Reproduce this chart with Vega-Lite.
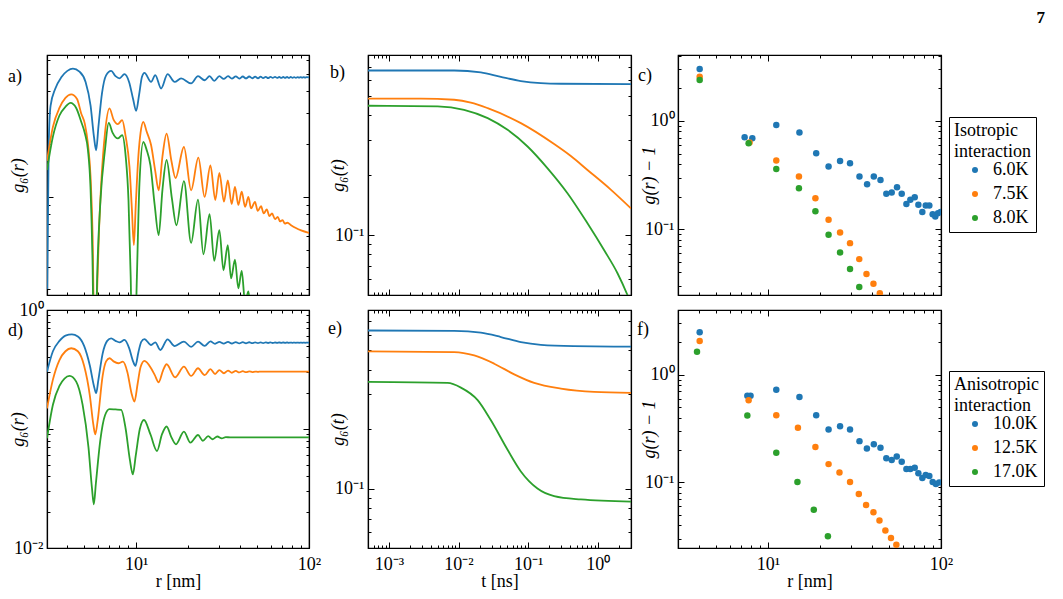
{
"$schema": "https://vega.github.io/schema/vega-lite/v6.json",
"background": "white",
"padding": {"left": 7, "top": 9, "right": 5, "bottom": 5},
"title": {"text": "7", "anchor": "end", "fontSize": 17, "font": "Liberation Serif", "fontWeight": "bold", "offset": 18, "color": "black"},
"config": {
  "font": "Liberation Serif",
  "view": {"stroke": "black", "strokeWidth": 1.2},
  "axis": {"domainColor": "black", "domainWidth": 1.2, "tickColor": "black", "tickWidth": 1, "labelColor": "black", "titleColor": "black", "grid": false, "labelFontSize": 18, "titleFontSize": 18, "labelFont": "Liberation Serif", "titleFont": "Liberation Serif", "titleFontWeight": "normal", "labelFlush": false, "labelOverlap": false},
  "axisTop": {"minExtent": 0, "maxExtent": 0},
  "axisRight": {"minExtent": 0, "maxExtent": 0},
  "legend": {"labelFont": "Liberation Serif", "titleFont": "Liberation Serif", "labelFontSize": 18, "titleFontSize": 18, "titleFontWeight": "normal", "labelColor": "black", "titleColor": "black"}
},
"datasets": {
"pa": [
{"r":3.06,"g":0.03,"T":"6.0K"},{"r":3.12,"g":0.2,"T":"6.0K"},{"r":3.2,"g":0.33,"T":"6.0K"},{"r":3.4,"g":0.41,"T":"6.0K"},{"r":3.7,"g":0.48,"T":"6.0K"},{"r":4.0,"g":0.52,"T":"6.0K"},{"r":4.31,"g":0.536,"T":"6.0K"},{"r":4.7,"g":0.515,"T":"6.0K"},{"r":5.1,"g":0.45,"T":"6.0K"},{"r":5.45,"g":0.33,"T":"6.0K"},{"r":5.7,"g":0.22,"T":"6.0K"},{"r":5.87,"g":0.184,"T":"6.0K"},{"r":6.05,"g":0.25,"T":"6.0K"},{"r":6.35,"g":0.39,"T":"6.0K"},{"r":6.7,"g":0.49,"T":"6.0K"},{"r":7.17,"g":0.52,"T":"6.0K"},{"r":7.6,"g":0.485,"T":"6.0K"},{"r":8.01,"g":0.471,"T":"6.0K"},{"r":8.56,"g":0.498,"T":"6.0K"},{"r":9.1,"g":0.45,"T":"6.0K"},{"r":9.6,"g":0.36,"T":"6.0K"},{"r":10.0,"g":0.308,"T":"6.0K"},{"r":10.4,"g":0.38,"T":"6.0K"},{"r":10.8,"g":0.48,"T":"6.0K"},{"r":11.17,"g":0.507,"T":"6.0K"},{"r":12.2,"g":0.45,"T":"6.0K"},{"r":12.9,"g":0.492,"T":"6.0K"},{"r":13.95,"g":0.413,"T":"6.0K"},{"r":15.2,"g":0.498,"T":"6.0K"},{"r":16.7,"g":0.45,"T":"6.0K"},{"r":18.2,"g":0.471,"T":"6.0K"},{"r":20.8,"g":0.441,"T":"6.0K"},{"r":22.8,"g":0.485,"T":"6.0K"},{"r":24.9,"g":0.46,"T":"6.0K"},{"r":26.6,"g":0.485,"T":"6.0K"},{"r":28.3,"g":0.456,"T":"6.0K"},{"r":30.3,"g":0.485,"T":"6.0K"},{"r":32.1,"g":0.468,"T":"6.0K"},{"r":34,"g":0.485,"T":"6.0K"},{"r":35.8,"g":0.47,"T":"6.0K"},{"r":37.7,"g":0.484,"T":"6.0K"},{"r":39.5,"g":0.47,"T":"6.0K"},{"r":41.4,"g":0.483,"T":"6.0K"},{"r":43.2,"g":0.471,"T":"6.0K"},{"r":45.1,"g":0.483,"T":"6.0K"},{"r":47,"g":0.472,"T":"6.0K"},{"r":48.8,"g":0.482,"T":"6.0K"},{"r":50.7,"g":0.472,"T":"6.0K"},{"r":52.5,"g":0.482,"T":"6.0K"},{"r":54.3,"g":0.473,"T":"6.0K"},{"r":56.2,"g":0.481,"T":"6.0K"},{"r":58,"g":0.473,"T":"6.0K"},{"r":59.9,"g":0.481,"T":"6.0K"},{"r":61.7,"g":0.474,"T":"6.0K"},{"r":63.6,"g":0.481,"T":"6.0K"},{"r":65.4,"g":0.474,"T":"6.0K"},{"r":67.3,"g":0.48,"T":"6.0K"},{"r":69.1,"g":0.474,"T":"6.0K"},{"r":71,"g":0.48,"T":"6.0K"},{"r":72.8,"g":0.475,"T":"6.0K"},{"r":74.7,"g":0.48,"T":"6.0K"},{"r":76.5,"g":0.475,"T":"6.0K"},{"r":78.4,"g":0.48,"T":"6.0K"},{"r":80.2,"g":0.475,"T":"6.0K"},{"r":82.1,"g":0.479,"T":"6.0K"},{"r":84,"g":0.475,"T":"6.0K"},{"r":85.8,"g":0.479,"T":"6.0K"},{"r":87.7,"g":0.476,"T":"6.0K"},{"r":89.5,"g":0.479,"T":"6.0K"},{"r":91.4,"g":0.476,"T":"6.0K"},{"r":93.2,"g":0.479,"T":"6.0K"},{"r":95,"g":0.476,"T":"6.0K"},{"r":96.9,"g":0.479,"T":"6.0K"},{"r":100,"g":0.477,"T":"6.0K"},
{"r":3.05,"g":0.16,"T":"7.5K"},{"r":3.3,"g":0.25,"T":"7.5K"},{"r":3.6,"g":0.32,"T":"7.5K"},{"r":3.9,"g":0.365,"T":"7.5K"},{"r":4.21,"g":0.382,"T":"7.5K"},{"r":4.55,"g":0.36,"T":"7.5K"},{"r":4.81,"g":0.298,"T":"7.5K"},{"r":5.05,"g":0.26,"T":"7.5K"},{"r":5.26,"g":0.2,"T":"7.5K"},{"r":5.45,"g":0.13,"T":"7.5K"},{"r":5.6,"g":0.06,"T":"7.5K"},{"r":5.78,"g":0.008,"T":"7.5K"},{"r":5.95,"g":0.03,"T":"7.5K"},{"r":6.1,"g":0.065,"T":"7.5K"},{"r":6.28,"g":0.119,"T":"7.5K"},{"r":6.6,"g":0.229,"T":"7.5K"},{"r":7.01,"g":0.318,"T":"7.5K"},{"r":7.4,"g":0.275,"T":"7.5K"},{"r":7.83,"g":0.259,"T":"7.5K"},{"r":8.3,"g":0.273,"T":"7.5K"},{"r":8.7,"g":0.22,"T":"7.5K"},{"r":9.15,"g":0.148,"T":"7.5K"},{"r":9.45,"g":0.085,"T":"7.5K"},{"r":9.7,"g":0.0532,"T":"7.5K"},{"r":9.95,"g":0.09,"T":"7.5K"},{"r":10.3,"g":0.17,"T":"7.5K"},{"r":10.6,"g":0.23,"T":"7.5K"},{"r":11.0,"g":0.267,"T":"7.5K"},{"r":11.5,"g":0.235,"T":"7.5K"},{"r":12.2,"g":0.197,"T":"7.5K"},{"r":12.9,"g":0.14,"T":"7.5K"},{"r":13.5,"g":0.109,"T":"7.5K"},{"r":14.2,"g":0.17,"T":"7.5K"},{"r":15.0,"g":0.229,"T":"7.5K"},{"r":16.0,"g":0.16,"T":"7.5K"},{"r":16.9,"g":0.128,"T":"7.5K"},{"r":18.9,"g":0.192,"T":"7.5K"},{"r":20.8,"g":0.109,"T":"7.5K"},{"r":22.9,"g":0.167,"T":"7.5K"},{"r":24.9,"g":0.1,"T":"7.5K"},{"r":26.9,"g":0.151,"T":"7.5K"},{"r":28.7,"g":0.096,"T":"7.5K"},{"r":30.3,"g":0.137,"T":"7.5K"},{"r":32.2,"g":0.094,"T":"7.5K"},{"r":33.9,"g":0.124,"T":"7.5K"},{"r":35.7,"g":0.091,"T":"7.5K"},{"r":37.3,"g":0.114,"T":"7.5K"},{"r":39,"g":0.09,"T":"7.5K"},{"r":40.8,"g":0.107,"T":"7.5K"},{"r":42.7,"g":0.0877,"T":"7.5K"},{"r":44.6,"g":0.1,"T":"7.5K"},{"r":46.2,"g":0.086,"T":"7.5K"},{"r":48.7,"g":0.0937,"T":"7.5K"},{"r":50.5,"g":0.0833,"T":"7.5K"},{"r":52.8,"g":0.0885,"T":"7.5K"},{"r":54.7,"g":0.0805,"T":"7.5K"},{"r":57,"g":0.0848,"T":"7.5K"},{"r":59,"g":0.0777,"T":"7.5K"},{"r":61.1,"g":0.0805,"T":"7.5K"},{"r":63.6,"g":0.0747,"T":"7.5K"},{"r":65.9,"g":0.077,"T":"7.5K"},{"r":68,"g":0.0725,"T":"7.5K"},{"r":70.3,"g":0.0738,"T":"7.5K"},{"r":72.5,"g":0.0705,"T":"7.5K"},{"r":75,"g":0.0713,"T":"7.5K"},{"r":78.7,"g":0.069,"T":"7.5K"},{"r":84,"g":0.0665,"T":"7.5K"},{"r":90,"g":0.0645,"T":"7.5K"},{"r":100,"g":0.0624,"T":"7.5K"},
{"r":3.05,"g":0.142,"T":"8.0K"},{"r":3.3,"g":0.22,"T":"8.0K"},{"r":3.6,"g":0.29,"T":"8.0K"},{"r":3.9,"g":0.325,"T":"8.0K"},{"r":4.17,"g":0.342,"T":"8.0K"},{"r":4.5,"g":0.32,"T":"8.0K"},{"r":4.81,"g":0.267,"T":"8.0K"},{"r":5.05,"g":0.23,"T":"8.0K"},{"r":5.26,"g":0.185,"T":"8.0K"},{"r":5.45,"g":0.11,"T":"8.0K"},{"r":5.6,"g":0.04,"T":"8.0K"},{"r":5.75,"g":0.006,"T":"8.0K"},{"r":5.95,"g":0.035,"T":"8.0K"},{"r":6.22,"g":0.096,"T":"8.0K"},{"r":6.6,"g":0.184,"T":"8.0K"},{"r":6.94,"g":0.263,"T":"8.0K"},{"r":7.3,"g":0.232,"T":"8.0K"},{"r":7.83,"g":0.215,"T":"8.0K"},{"r":8.3,"g":0.224,"T":"8.0K"},{"r":8.7,"g":0.17,"T":"8.0K"},{"r":9.03,"g":0.096,"T":"8.0K"},{"r":9.3,"g":0.035,"T":"8.0K"},{"r":9.6,"g":0.006,"T":"8.0K"},{"r":10.1,"g":0.035,"T":"8.0K"},{"r":10.45,"g":0.119,"T":"8.0K"},{"r":11.0,"g":0.205,"T":"8.0K"},{"r":11.5,"g":0.185,"T":"8.0K"},{"r":12.1,"g":0.151,"T":"8.0K"},{"r":12.8,"g":0.09,"T":"8.0K"},{"r":13.5,"g":0.0606,"T":"8.0K"},{"r":14.2,"g":0.11,"T":"8.0K"},{"r":15.0,"g":0.162,"T":"8.0K"},{"r":16.1,"g":0.098,"T":"8.0K"},{"r":17.1,"g":0.069,"T":"8.0K"},{"r":18.9,"g":0.123,"T":"8.0K"},{"r":20.8,"g":0.0548,"T":"8.0K"},{"r":22.8,"g":0.0966,"T":"8.0K"},{"r":24.5,"g":0.0472,"T":"8.0K"},{"r":26.6,"g":0.0797,"T":"8.0K"},{"r":28.3,"g":0.0433,"T":"8.0K"},{"r":30.3,"g":0.0647,"T":"8.0K"},{"r":32,"g":0.0383,"T":"8.0K"},{"r":33.9,"g":0.0532,"T":"8.0K"},{"r":35.4,"g":0.0344,"T":"8.0K"},{"r":37.3,"g":0.044,"T":"8.0K"},{"r":39,"g":0.0302,"T":"8.0K"},{"r":40.8,"g":0.038,"T":"8.0K"},{"r":42.7,"g":0.025,"T":"8.0K"},{"r":44.6,"g":0.029,"T":"8.0K"},{"r":46.5,"g":0.02,"T":"8.0K"},{"r":50,"g":0.014,"T":"8.0K"}
],
"pd": [
{"r":3.05,"g":0.303,"T":"10.0K"},{"r":3.3,"g":0.45,"T":"10.0K"},{"r":3.6,"g":0.55,"T":"10.0K"},{"r":3.9,"g":0.61,"T":"10.0K"},{"r":4.25,"g":0.625,"T":"10.0K"},{"r":4.6,"g":0.6,"T":"10.0K"},{"r":5.0,"g":0.5,"T":"10.0K"},{"r":5.4,"g":0.34,"T":"10.0K"},{"r":5.7,"g":0.23,"T":"10.0K"},{"r":5.87,"g":0.2,"T":"10.0K"},{"r":6.05,"g":0.26,"T":"10.0K"},{"r":6.4,"g":0.43,"T":"10.0K"},{"r":6.8,"g":0.55,"T":"10.0K"},{"r":7.17,"g":0.578,"T":"10.0K"},{"r":7.6,"g":0.55,"T":"10.0K"},{"r":8.01,"g":0.535,"T":"10.0K"},{"r":8.56,"g":0.56,"T":"10.0K"},{"r":9.1,"g":0.48,"T":"10.0K"},{"r":9.6,"g":0.37,"T":"10.0K"},{"r":9.9,"g":0.339,"T":"10.0K"},{"r":10.3,"g":0.44,"T":"10.0K"},{"r":10.7,"g":0.54,"T":"10.0K"},{"r":11.17,"g":0.57,"T":"10.0K"},{"r":12.2,"g":0.508,"T":"10.0K"},{"r":12.9,"g":0.535,"T":"10.0K"},{"r":13.8,"g":0.461,"T":"10.0K"},{"r":15.2,"g":0.567,"T":"10.0K"},{"r":16.7,"g":0.498,"T":"10.0K"},{"r":18.9,"g":0.542,"T":"10.0K"},{"r":20.8,"g":0.49,"T":"10.0K"},{"r":22.8,"g":0.542,"T":"10.0K"},{"r":24.9,"g":0.5,"T":"10.0K"},{"r":26.9,"g":0.545,"T":"10.0K"},{"r":28.6,"g":0.52,"T":"10.0K"},{"r":30.3,"g":0.54,"T":"10.0K"},{"r":32.1,"g":0.522,"T":"10.0K"},{"r":34,"g":0.54,"T":"10.0K"},{"r":35.8,"g":0.523,"T":"10.0K"},{"r":37.7,"g":0.538,"T":"10.0K"},{"r":39.5,"g":0.524,"T":"10.0K"},{"r":41.4,"g":0.537,"T":"10.0K"},{"r":43.2,"g":0.525,"T":"10.0K"},{"r":45.1,"g":0.536,"T":"10.0K"},{"r":47,"g":0.526,"T":"10.0K"},{"r":48.8,"g":0.535,"T":"10.0K"},{"r":50.7,"g":0.527,"T":"10.0K"},{"r":52.5,"g":0.535,"T":"10.0K"},{"r":54.3,"g":0.527,"T":"10.0K"},{"r":56.2,"g":0.534,"T":"10.0K"},{"r":58,"g":0.528,"T":"10.0K"},{"r":59.9,"g":0.534,"T":"10.0K"},{"r":61.7,"g":0.528,"T":"10.0K"},{"r":63.6,"g":0.533,"T":"10.0K"},{"r":65.4,"g":0.529,"T":"10.0K"},{"r":67.3,"g":0.533,"T":"10.0K"},{"r":69.1,"g":0.529,"T":"10.0K"},{"r":71,"g":0.533,"T":"10.0K"},{"r":72.8,"g":0.529,"T":"10.0K"},{"r":74.7,"g":0.533,"T":"10.0K"},{"r":76.5,"g":0.53,"T":"10.0K"},{"r":78.4,"g":0.532,"T":"10.0K"},{"r":80.2,"g":0.53,"T":"10.0K"},{"r":82.1,"g":0.532,"T":"10.0K"},{"r":84,"g":0.53,"T":"10.0K"},{"r":85.8,"g":0.532,"T":"10.0K"},{"r":87.7,"g":0.53,"T":"10.0K"},{"r":89.5,"g":0.532,"T":"10.0K"},{"r":91.4,"g":0.53,"T":"10.0K"},{"r":93.2,"g":0.532,"T":"10.0K"},{"r":95,"g":0.53,"T":"10.0K"},{"r":96.9,"g":0.532,"T":"10.0K"},{"r":100,"g":0.531,"T":"10.0K"},
{"r":3.05,"g":0.149,"T":"12.5K"},{"r":3.3,"g":0.26,"T":"12.5K"},{"r":3.6,"g":0.38,"T":"12.5K"},{"r":3.9,"g":0.45,"T":"12.5K"},{"r":4.21,"g":0.477,"T":"12.5K"},{"r":4.6,"g":0.45,"T":"12.5K"},{"r":5.0,"g":0.34,"T":"12.5K"},{"r":5.4,"g":0.19,"T":"12.5K"},{"r":5.65,"g":0.11,"T":"12.5K"},{"r":5.8,"g":0.09,"T":"12.5K"},{"r":6.0,"g":0.12,"T":"12.5K"},{"r":6.4,"g":0.28,"T":"12.5K"},{"r":6.7,"g":0.37,"T":"12.5K"},{"r":7.01,"g":0.393,"T":"12.5K"},{"r":7.4,"g":0.37,"T":"12.5K"},{"r":7.89,"g":0.357,"T":"12.5K"},{"r":8.38,"g":0.368,"T":"12.5K"},{"r":8.9,"g":0.3,"T":"12.5K"},{"r":9.4,"g":0.2,"T":"12.5K"},{"r":9.78,"g":0.17,"T":"12.5K"},{"r":10.2,"g":0.24,"T":"12.5K"},{"r":10.6,"g":0.33,"T":"12.5K"},{"r":11.17,"g":0.373,"T":"12.5K"},{"r":12.2,"g":0.324,"T":"12.5K"},{"r":12.8,"g":0.285,"T":"12.5K"},{"r":13.5,"g":0.247,"T":"12.5K"},{"r":14.3,"g":0.31,"T":"12.5K"},{"r":15.0,"g":0.35,"T":"12.5K"},{"r":16.8,"g":0.272,"T":"12.5K"},{"r":18.9,"g":0.334,"T":"12.5K"},{"r":20.8,"g":0.279,"T":"12.5K"},{"r":22.8,"g":0.324,"T":"12.5K"},{"r":24.9,"g":0.284,"T":"12.5K"},{"r":26.9,"g":0.318,"T":"12.5K"},{"r":28.6,"g":0.29,"T":"12.5K"},{"r":30.3,"g":0.313,"T":"12.5K"},{"r":32.2,"g":0.294,"T":"12.5K"},{"r":34,"g":0.31,"T":"12.5K"},{"r":35.8,"g":0.297,"T":"12.5K"},{"r":37.7,"g":0.308,"T":"12.5K"},{"r":39.5,"g":0.299,"T":"12.5K"},{"r":41.4,"g":0.306,"T":"12.5K"},{"r":43.2,"g":0.3,"T":"12.5K"},{"r":45.1,"g":0.305,"T":"12.5K"},{"r":47,"g":0.301,"T":"12.5K"},{"r":48.8,"g":0.304,"T":"12.5K"},{"r":50.7,"g":0.302,"T":"12.5K"},{"r":52.5,"g":0.304,"T":"12.5K"},{"r":56,"g":0.303,"T":"12.5K"},{"r":100,"g":0.303,"T":"12.5K"},
{"r":3.05,"g":0.0835,"T":"17.0K"},{"r":3.3,"g":0.16,"T":"17.0K"},{"r":3.6,"g":0.23,"T":"17.0K"},{"r":3.85,"g":0.265,"T":"17.0K"},{"r":4.12,"g":0.279,"T":"17.0K"},{"r":4.5,"g":0.25,"T":"17.0K"},{"r":4.9,"g":0.16,"T":"17.0K"},{"r":5.3,"g":0.07,"T":"17.0K"},{"r":5.55,"g":0.032,"T":"17.0K"},{"r":5.69,"g":0.0233,"T":"17.0K"},{"r":5.85,"g":0.035,"T":"17.0K"},{"r":6.2,"g":0.08,"T":"17.0K"},{"r":6.6,"g":0.13,"T":"17.0K"},{"r":7.01,"g":0.147,"T":"17.0K"},{"r":7.6,"g":0.146,"T":"17.0K"},{"r":8.19,"g":0.145,"T":"17.0K"},{"r":8.7,"g":0.1,"T":"17.0K"},{"r":9.2,"g":0.055,"T":"17.0K"},{"r":9.57,"g":0.0416,"T":"17.0K"},{"r":9.95,"g":0.06,"T":"17.0K"},{"r":10.5,"g":0.1,"T":"17.0K"},{"r":11.1,"g":0.119,"T":"17.0K"},{"r":12.1,"g":0.09,"T":"17.0K"},{"r":13.2,"g":0.0653,"T":"17.0K"},{"r":14.1,"g":0.09,"T":"17.0K"},{"r":15.0,"g":0.105,"T":"17.0K"},{"r":16.0,"g":0.085,"T":"17.0K"},{"r":17.0,"g":0.0744,"T":"17.0K"},{"r":18.9,"g":0.095,"T":"17.0K"},{"r":20.6,"g":0.0767,"T":"17.0K"},{"r":22.8,"g":0.089,"T":"17.0K"},{"r":24.3,"g":0.0797,"T":"17.0K"},{"r":26.1,"g":0.087,"T":"17.0K"},{"r":27.6,"g":0.082,"T":"17.0K"},{"r":29.5,"g":0.0865,"T":"17.0K"},{"r":31.3,"g":0.0835,"T":"17.0K"},{"r":33,"g":0.0855,"T":"17.0K"},{"r":35,"g":0.085,"T":"17.0K"},{"r":100,"g":0.0851,"T":"17.0K"}
],
"pb": [
{"t":0.0005,"g":0.669,"T":"6.0K"},{"t":0.00865,"g":0.669,"T":"6.0K"},{"t":0.0209,"g":0.655,"T":"6.0K"},{"t":0.0405,"g":0.621,"T":"6.0K"},{"t":0.0785,"g":0.592,"T":"6.0K"},{"t":0.152,"g":0.578,"T":"6.0K"},{"t":0.295,"g":0.574,"T":"6.0K"},{"t":3,"g":0.572,"T":"6.0K"},
{"t":0.0005,"g":0.483,"T":"7.5K"},{"t":0.00288,"g":0.483,"T":"7.5K"},{"t":0.00865,"g":0.477,"T":"7.5K"},{"t":0.015,"g":0.462,"T":"7.5K"},{"t":0.0262,"g":0.433,"T":"7.5K"},{"t":0.0785,"g":0.364,"T":"7.5K"},{"t":0.236,"g":0.286,"T":"7.5K"},{"t":0.41,"g":0.249,"T":"7.5K"},{"t":0.711,"g":0.212,"T":"7.5K"},{"t":1.535,"g":0.169,"T":"7.5K"},{"t":3,"g":0.136,"T":"7.5K"},
{"t":0.0005,"g":0.445,"T":"8.0K"},{"t":0.005,"g":0.442,"T":"8.0K"},{"t":0.012,"g":0.425,"T":"8.0K"},{"t":0.0262,"g":0.386,"T":"8.0K"},{"t":0.0506,"g":0.337,"T":"8.0K"},{"t":0.098,"g":0.278,"T":"8.0K"},{"t":0.19,"g":0.216,"T":"8.0K"},{"t":0.367,"g":0.162,"T":"8.0K"},{"t":0.711,"g":0.1145,"T":"8.0K"},{"t":1.23,"g":0.0841,"T":"8.0K"},{"t":1.92,"g":0.0643,"T":"8.0K"},{"t":2.67,"g":0.05,"T":"8.0K"},{"t":3,"g":0.0453,"T":"8.0K"}
],
"pe": [
{"t":0.0005,"g":0.63,"T":"10.0K"},{"t":0.00865,"g":0.627,"T":"10.0K"},{"t":0.0209,"g":0.614,"T":"10.0K"},{"t":0.0405,"g":0.584,"T":"10.0K"},{"t":0.0785,"g":0.55,"T":"10.0K"},{"t":0.152,"g":0.533,"T":"10.0K"},{"t":0.45,"g":0.525,"T":"10.0K"},{"t":3,"g":0.522,"T":"10.0K"},
{"t":0.0005,"g":0.494,"T":"12.5K"},{"t":0.00865,"g":0.49,"T":"12.5K"},{"t":0.0168,"g":0.471,"T":"12.5K"},{"t":0.0325,"g":0.428,"T":"12.5K"},{"t":0.063,"g":0.378,"T":"12.5K"},{"t":0.122,"g":0.342,"T":"12.5K"},{"t":0.295,"g":0.32,"T":"12.5K"},{"t":0.885,"g":0.308,"T":"12.5K"},{"t":3,"g":0.305,"T":"12.5K"},
{"t":0.0005,"g":0.346,"T":"17.0K"},{"t":0.00696,"g":0.342,"T":"17.0K"},{"t":0.0108,"g":0.324,"T":"17.0K"},{"t":0.0188,"g":0.28,"T":"17.0K"},{"t":0.029,"g":0.222,"T":"17.0K"},{"t":0.0506,"g":0.157,"T":"17.0K"},{"t":0.0785,"g":0.122,"T":"17.0K"},{"t":0.136,"g":0.1,"T":"17.0K"},{"t":0.236,"g":0.0915,"T":"17.0K"},{"t":0.57,"g":0.088,"T":"17.0K"},{"t":3,"g":0.0858,"T":"17.0K"}
],
"pc": [
{"r":4.03,"g":3.02,"T":"6.0K"},{"r":7.33,"g":0.707,"T":"6.0K"},{"r":8.12,"g":0.692,"T":"6.0K"},{"r":11.17,"g":0.918,"T":"6.0K"},{"r":15.2,"g":0.78,"T":"6.0K"},{"r":19.0,"g":0.503,"T":"6.0K"},{"r":22.4,"g":0.379,"T":"6.0K"},{"r":26.1,"g":0.427,"T":"6.0K"},{"r":29.8,"g":0.407,"T":"6.0K"},{"r":33.8,"g":0.306,"T":"6.0K"},{"r":37.4,"g":0.26,"T":"6.0K"},{"r":40.9,"g":0.306,"T":"6.0K"},{"r":44.7,"g":0.285,"T":"6.0K"},{"r":48.3,"g":0.212,"T":"6.0K"},{"r":51.9,"g":0.218,"T":"6.0K"},{"r":55.7,"g":0.244,"T":"6.0K"},{"r":59.3,"g":0.212,"T":"6.0K"},{"r":63.1,"g":0.171,"T":"6.0K"},{"r":66.5,"g":0.187,"T":"6.0K"},{"r":70.5,"g":0.197,"T":"6.0K"},{"r":74,"g":0.168,"T":"6.0K"},{"r":78,"g":0.144,"T":"6.0K"},{"r":81.6,"g":0.165,"T":"6.0K"},{"r":85.6,"g":0.165,"T":"6.0K"},{"r":89.5,"g":0.137,"T":"6.0K"},{"r":92.7,"g":0.131,"T":"6.0K"},{"r":96.1,"g":0.14,"T":"6.0K"},{"r":99.6,"g":0.144,"T":"6.0K"},
{"r":4.03,"g":2.56,"T":"7.5K"},{"r":7.83,"g":0.631,"T":"7.5K"},{"r":11.17,"g":0.43,"T":"7.5K"},{"r":15.1,"g":0.306,"T":"7.5K"},{"r":18.8,"g":0.193,"T":"7.5K"},{"r":22.4,"g":0.122,"T":"7.5K"},{"r":26.1,"g":0.093,"T":"7.5K"},{"r":29.8,"g":0.0742,"T":"7.5K"},{"r":33.7,"g":0.0528,"T":"7.5K"},{"r":37.1,"g":0.0384,"T":"7.5K"},{"r":40.7,"g":0.0313,"T":"7.5K"},{"r":44.3,"g":0.0256,"T":"7.5K"},
{"r":4.03,"g":2.39,"T":"8.0K"},{"r":7.73,"g":0.622,"T":"8.0K"},{"r":11.17,"g":0.36,"T":"8.0K"},{"r":15.1,"g":0.239,"T":"8.0K"},{"r":18.8,"g":0.146,"T":"8.0K"},{"r":22.4,"g":0.0886,"T":"8.0K"},{"r":26.1,"g":0.0608,"T":"8.0K"},{"r":29.8,"g":0.0427,"T":"8.0K"},{"r":33.7,"g":0.0291,"T":"8.0K"}
],
"pf": [
{"r":4.03,"g":2.48,"T":"10.0K"},{"r":7.6,"g":0.64,"T":"10.0K"},{"r":7.93,"g":0.64,"T":"10.0K"},{"r":11.17,"g":0.727,"T":"10.0K"},{"r":15.2,"g":0.622,"T":"10.0K"},{"r":19.0,"g":0.421,"T":"10.0K"},{"r":22.4,"g":0.311,"T":"10.0K"},{"r":26.1,"g":0.333,"T":"10.0K"},{"r":29.8,"g":0.311,"T":"10.0K"},{"r":33.8,"g":0.242,"T":"10.0K"},{"r":37.3,"g":0.207,"T":"10.0K"},{"r":40.9,"g":0.226,"T":"10.0K"},{"r":44.7,"g":0.21,"T":"10.0K"},{"r":48.3,"g":0.168,"T":"10.0K"},{"r":51.9,"g":0.162,"T":"10.0K"},{"r":55.5,"g":0.174,"T":"10.0K"},{"r":59.3,"g":0.156,"T":"10.0K"},{"r":63.1,"g":0.133,"T":"10.0K"},{"r":66.5,"g":0.133,"T":"10.0K"},{"r":70.5,"g":0.137,"T":"10.0K"},{"r":74,"g":0.122,"T":"10.0K"},{"r":78,"g":0.11,"T":"10.0K"},{"r":81.6,"g":0.117,"T":"10.0K"},{"r":85.6,"g":0.115,"T":"10.0K"},{"r":89.5,"g":0.101,"T":"10.0K"},{"r":93.5,"g":0.0965,"T":"10.0K"},{"r":97.6,"g":0.1,"T":"10.0K"},
{"r":4.03,"g":2.06,"T":"12.5K"},{"r":7.73,"g":0.579,"T":"12.5K"},{"r":11.17,"g":0.421,"T":"12.5K"},{"r":14.9,"g":0.322,"T":"12.5K"},{"r":18.8,"g":0.213,"T":"12.5K"},{"r":22.4,"g":0.148,"T":"12.5K"},{"r":25.9,"g":0.124,"T":"12.5K"},{"r":29.8,"g":0.101,"T":"12.5K"},{"r":33.5,"g":0.078,"T":"12.5K"},{"r":36.9,"g":0.0617,"T":"12.5K"},{"r":40.7,"g":0.0528,"T":"12.5K"},{"r":44.1,"g":0.0442,"T":"12.5K"},{"r":47.7,"g":0.0357,"T":"12.5K"},{"r":51.4,"g":0.0304,"T":"12.5K"},{"r":55.2,"g":0.0264,"T":"12.5K"},
{"r":3.89,"g":1.64,"T":"17.0K"},{"r":7.6,"g":0.418,"T":"17.0K"},{"r":11.17,"g":0.189,"T":"17.0K"},{"r":14.8,"g":0.101,"T":"17.0K"},{"r":18.4,"g":0.0558,"T":"17.0K"},{"r":22.2,"g":0.0317,"T":"17.0K"}
]
},
"hconcat": [
 {"hconcat": [
  {"vconcat": [
   {"width": 262, "height": 240, "data": {"name": "pa"},
    "title": {"text": "a)", "anchor": "start", "frame": "group", "offset": 0, "baseline": "middle", "dx": -39, "dy": 40, "fontSize": 18, "fontWeight": "normal", "font": "Liberation Serif", "color": "black"},
    "layer": [
     {"mark": {"type": "line", "clip": true, "interpolate": "monotone", "strokeWidth": 1.8},
      "encoding": {
       "x": {"field": "r", "type": "quantitative", "scale": {"type": "log", "domain": [3.05, 100], "nice": false}, "axis": {"orient": "bottom", "labels": false, "title": null, "tickSize": {"condition": {"test": "abs(log(datum.value)/LN10-round(log(datum.value)/LN10))<0.001", "value": -6}, "value": -3}}},
       "y": {"field": "g", "type": "quantitative", "scale": {"type": "log", "domain": [0.0277, 0.64], "nice": false}, "axis": {"orient": "left", "labels": false, "title": "g₆(r)", "titleFontStyle": "italic", "titleX": -29, "titleBaseline": "middle", "tickSize": {"condition": {"test": "abs(log(datum.value)/LN10-round(log(datum.value)/LN10))<0.001", "value": -6}, "value": -3}}},
       "color": {"field": "T", "type": "nominal", "scale": {"domain": ["6.0K", "7.5K", "8.0K"], "range": ["#1f77b4", "#ff7f0e", "#2ca02c"]}, "legend": null}
      }},
     {"mark": {"type": "line", "opacity": 0},
      "encoding": {
       "x": {"field": "r", "type": "quantitative", "scale": {"type": "log", "domain": [3.05, 100], "nice": false}, "axis": {"orient": "top", "labels": false, "title": null, "tickSize": {"condition": {"test": "abs(log(datum.value)/LN10-round(log(datum.value)/LN10))<0.001", "value": -6}, "value": -3}}},
       "y": {"field": "g", "type": "quantitative", "scale": {"type": "log", "domain": [0.0277, 0.64], "nice": false}, "axis": {"orient": "right", "labels": false, "title": null, "tickSize": {"condition": {"test": "abs(log(datum.value)/LN10-round(log(datum.value)/LN10))<0.001", "value": -6}, "value": -3}}}
      }}
    ],
    "resolve": {"axis": {"x": "independent", "y": "independent"}}
   },
   {"width": 262, "height": 238, "data": {"name": "pd"},
    "title": {"text": "d)", "anchor": "start", "frame": "group", "offset": 0, "baseline": "middle", "dx": -39, "dy": 48, "fontSize": 18, "fontWeight": "normal", "font": "Liberation Serif", "color": "black"},
    "layer": [
     {"mark": {"type": "line", "clip": true, "interpolate": "monotone", "strokeWidth": 1.8},
      "encoding": {
       "x": {"field": "r", "type": "quantitative", "scale": {"type": "log", "domain": [3.05, 100], "nice": false}, "axis": {"orient": "bottom", "title": "r [nm]", "titleY": 33, "titleBaseline": "middle", "labelPadding": 13, "labelExpr": "abs(log(datum.value)/LN10-1)<0.001?'10¹':abs(log(datum.value)/LN10-2)<0.001?'10²':abs(log(datum.value)/LN10)<0.001?'10⁰':''", "tickSize": {"condition": {"test": "abs(log(datum.value)/LN10-round(log(datum.value)/LN10))<0.001", "value": -6}, "value": -3}}},
       "y": {"field": "g", "type": "quantitative", "scale": {"type": "log", "domain": [0.01, 1], "nice": false}, "axis": {"orient": "left", "title": "g₆(r)", "titleFontStyle": "italic", "titleX": -29, "titleBaseline": "middle", "labelPadding": 10, "labelExpr": "abs(log(datum.value)/LN10+2)<0.001?'10⁻²':abs(log(datum.value)/LN10)<0.001?'10⁰':''", "tickSize": {"condition": {"test": "abs(log(datum.value)/LN10-round(log(datum.value)/LN10))<0.001", "value": -6}, "value": -3}}},
       "color": {"field": "T", "type": "nominal", "scale": {"domain": ["10.0K", "12.5K", "17.0K"], "range": ["#1f77b4", "#ff7f0e", "#2ca02c"]}, "legend": null}
      }},
     {"mark": {"type": "line", "opacity": 0},
      "encoding": {
       "x": {"field": "r", "type": "quantitative", "scale": {"type": "log", "domain": [3.05, 100], "nice": false}, "axis": {"orient": "top", "labels": false, "title": null, "tickSize": {"condition": {"test": "abs(log(datum.value)/LN10-round(log(datum.value)/LN10))<0.001", "value": -6}, "value": -3}}},
       "y": {"field": "g", "type": "quantitative", "scale": {"type": "log", "domain": [0.01, 1], "nice": false}, "axis": {"orient": "right", "labels": false, "title": null, "tickSize": {"condition": {"test": "abs(log(datum.value)/LN10-round(log(datum.value)/LN10))<0.001", "value": -6}, "value": -3}}}
      }}
    ],
    "resolve": {"axis": {"x": "independent", "y": "independent"}}
   }
  ], "spacing": 15, "bounds": "flush", "resolve": {"scale": {"color": "independent"}}},
  {"vconcat": [
   {"width": 263, "height": 240, "data": {"name": "pb"},
    "title": {"text": "b)", "anchor": "start", "frame": "group", "offset": 0, "baseline": "middle", "dx": -38, "dy": 45, "fontSize": 18, "fontWeight": "normal", "font": "Liberation Serif", "color": "black"},
    "layer": [
     {"mark": {"type": "line", "clip": true, "interpolate": "monotone", "strokeWidth": 1.8},
      "encoding": {
       "x": {"field": "t", "type": "quantitative", "scale": {"type": "log", "domain": [0.0005, 3], "nice": false}, "axis": {"orient": "bottom", "labels": false, "title": null, "tickSize": {"condition": {"test": "abs(log(datum.value)/LN10-round(log(datum.value)/LN10))<0.001", "value": -6}, "value": -3}}},
       "y": {"field": "g", "type": "quantitative", "scale": {"type": "log", "domain": [0.05, 0.8], "nice": false}, "axis": {"orient": "left", "title": "g₆(t)", "titleFontStyle": "italic", "titleX": -30, "titleBaseline": "middle", "labelPadding": 10, "labelExpr": "abs(log(datum.value)/LN10+1)<0.001?'10⁻¹':''", "tickSize": {"condition": {"test": "abs(log(datum.value)/LN10-round(log(datum.value)/LN10))<0.001", "value": -6}, "value": -3}}},
       "color": {"field": "T", "type": "nominal", "scale": {"domain": ["6.0K", "7.5K", "8.0K"], "range": ["#1f77b4", "#ff7f0e", "#2ca02c"]}, "legend": null}
      }},
     {"mark": {"type": "line", "opacity": 0},
      "encoding": {
       "x": {"field": "t", "type": "quantitative", "scale": {"type": "log", "domain": [0.0005, 3], "nice": false}, "axis": {"orient": "top", "labels": false, "title": null, "tickSize": {"condition": {"test": "abs(log(datum.value)/LN10-round(log(datum.value)/LN10))<0.001", "value": -6}, "value": -3}}},
       "y": {"field": "g", "type": "quantitative", "scale": {"type": "log", "domain": [0.05, 0.8], "nice": false}, "axis": {"orient": "right", "labels": false, "title": null, "tickSize": {"condition": {"test": "abs(log(datum.value)/LN10-round(log(datum.value)/LN10))<0.001", "value": -6}, "value": -3}}}
      }}
    ],
    "resolve": {"axis": {"x": "independent", "y": "independent"}}
   },
   {"width": 263, "height": 238, "data": {"name": "pe"},
    "title": {"text": "e)", "anchor": "start", "frame": "group", "offset": 0, "baseline": "middle", "dx": -40, "dy": 46, "fontSize": 18, "fontWeight": "normal", "font": "Liberation Serif", "color": "black"},
    "layer": [
     {"mark": {"type": "line", "clip": true, "interpolate": "monotone", "strokeWidth": 1.8},
      "encoding": {
       "x": {"field": "t", "type": "quantitative", "scale": {"type": "log", "domain": [0.0005, 3], "nice": false}, "axis": {"orient": "bottom", "title": "t [ns]", "titleY": 33, "titleBaseline": "middle", "labelPadding": 13, "labelExpr": "abs(log(datum.value)/LN10+3)<0.001?'10⁻³':abs(log(datum.value)/LN10+2)<0.001?'10⁻²':abs(log(datum.value)/LN10+1)<0.001?'10⁻¹':abs(log(datum.value)/LN10)<0.001?'10⁰':''", "tickSize": {"condition": {"test": "abs(log(datum.value)/LN10-round(log(datum.value)/LN10))<0.001", "value": -6}, "value": -3}}},
       "y": {"field": "g", "type": "quantitative", "scale": {"type": "log", "domain": [0.05, 0.8], "nice": false}, "axis": {"orient": "left", "title": "g₆(t)", "titleFontStyle": "italic", "titleX": -30, "titleBaseline": "middle", "labelPadding": 10, "labelExpr": "abs(log(datum.value)/LN10+1)<0.001?'10⁻¹':''", "tickSize": {"condition": {"test": "abs(log(datum.value)/LN10-round(log(datum.value)/LN10))<0.001", "value": -6}, "value": -3}}},
       "color": {"field": "T", "type": "nominal", "scale": {"domain": ["10.0K", "12.5K", "17.0K"], "range": ["#1f77b4", "#ff7f0e", "#2ca02c"]}, "legend": null}
      }},
     {"mark": {"type": "line", "opacity": 0},
      "encoding": {
       "x": {"field": "t", "type": "quantitative", "scale": {"type": "log", "domain": [0.0005, 3], "nice": false}, "axis": {"orient": "top", "labels": false, "title": null, "tickSize": {"condition": {"test": "abs(log(datum.value)/LN10-round(log(datum.value)/LN10))<0.001", "value": -6}, "value": -3}}},
       "y": {"field": "g", "type": "quantitative", "scale": {"type": "log", "domain": [0.05, 0.8], "nice": false}, "axis": {"orient": "right", "labels": false, "title": null, "tickSize": {"condition": {"test": "abs(log(datum.value)/LN10-round(log(datum.value)/LN10))<0.001", "value": -6}, "value": -3}}}
      }}
    ],
    "resolve": {"axis": {"x": "independent", "y": "independent"}}
   }
  ], "spacing": 15, "bounds": "flush", "resolve": {"scale": {"color": "independent"}}}
 ], "spacing": 5, "resolve": {"scale": {"color": "independent"}}},
 {"vconcat": [
   {"width": 263, "height": 240, "data": {"name": "pc"},
    "title": {"text": "c)", "anchor": "start", "frame": "group", "offset": 0, "baseline": "middle", "dx": -40, "dy": 47, "fontSize": 18, "fontWeight": "normal", "font": "Liberation Serif", "color": "black"},
    "layer": [
     {"mark": {"type": "point", "filled": true, "opacity": 1, "size": 42, "clip": true},
      "encoding": {
       "x": {"field": "r", "type": "quantitative", "scale": {"type": "log", "domain": [3.02, 100], "nice": false}, "axis": {"orient": "bottom", "labels": false, "title": null, "tickSize": {"condition": {"test": "abs(log(datum.value)/LN10-round(log(datum.value)/LN10))<0.001", "value": -6}, "value": -3}}},
       "y": {"field": "g", "type": "quantitative", "scale": {"type": "log", "domain": [0.0246, 4.07], "nice": false}, "axis": {"orient": "left", "title": "g(r) − 1", "titleFontStyle": "italic", "titleX": -29, "titleBaseline": "middle", "labelPadding": 10, "labelExpr": "abs(log(datum.value)/LN10+1)<0.001?'10⁻¹':abs(log(datum.value)/LN10)<0.001?'10⁰':''", "tickSize": {"condition": {"test": "abs(log(datum.value)/LN10-round(log(datum.value)/LN10))<0.001", "value": -6}, "value": -3}}},
       "color": {"field": "T", "type": "nominal", "scale": {"domain": ["6.0K", "7.5K", "8.0K"], "range": ["#1f77b4", "#ff7f0e", "#2ca02c"]},
        "legend": {"orient": "none", "legendX": 271, "legendY": 62, "title": ["Isotropic", "interaction"], "titleLineHeight": 21, "titlePadding": 0, "symbolType": "circle", "symbolSize": 36, "symbolOffset": 12, "labelOffset": 9, "rowPadding": 6, "strokeColor": "black", "fillColor": "white", "padding": 5, "cornerRadius": 0}}
      }},
     {"mark": {"type": "point", "opacity": 0},
      "encoding": {
       "x": {"field": "r", "type": "quantitative", "scale": {"type": "log", "domain": [3.02, 100], "nice": false}, "axis": {"orient": "top", "labels": false, "title": null, "tickSize": {"condition": {"test": "abs(log(datum.value)/LN10-round(log(datum.value)/LN10))<0.001", "value": -6}, "value": -3}}},
       "y": {"field": "g", "type": "quantitative", "scale": {"type": "log", "domain": [0.0246, 4.07], "nice": false}, "axis": {"orient": "right", "labels": false, "title": null, "tickSize": {"condition": {"test": "abs(log(datum.value)/LN10-round(log(datum.value)/LN10))<0.001", "value": -6}, "value": -3}}}
      }}
    ],
    "resolve": {"axis": {"x": "independent", "y": "independent"}}
   },
   {"width": 263, "height": 238, "data": {"name": "pf"},
    "title": {"text": "f)", "anchor": "start", "frame": "group", "offset": 0, "baseline": "middle", "dx": -41, "dy": 47, "fontSize": 18, "fontWeight": "normal", "font": "Liberation Serif", "color": "black"},
    "layer": [
     {"mark": {"type": "point", "filled": true, "opacity": 1, "size": 42, "clip": true},
      "encoding": {
       "x": {"field": "r", "type": "quantitative", "scale": {"type": "log", "domain": [3.02, 100], "nice": false}, "axis": {"orient": "bottom", "title": "r [nm]", "titleY": 33, "titleBaseline": "middle", "labelPadding": 13, "labelExpr": "abs(log(datum.value)/LN10-1)<0.001?'10¹':abs(log(datum.value)/LN10-2)<0.001?'10²':''", "tickSize": {"condition": {"test": "abs(log(datum.value)/LN10-round(log(datum.value)/LN10))<0.001", "value": -6}, "value": -3}}},
       "y": {"field": "g", "type": "quantitative", "scale": {"type": "log", "domain": [0.0246, 4.0], "nice": false}, "axis": {"orient": "left", "title": "g(r) − 1", "titleFontStyle": "italic", "titleX": -29, "titleBaseline": "middle", "labelPadding": 10, "labelExpr": "abs(log(datum.value)/LN10+1)<0.001?'10⁻¹':abs(log(datum.value)/LN10)<0.001?'10⁰':''", "tickSize": {"condition": {"test": "abs(log(datum.value)/LN10-round(log(datum.value)/LN10))<0.001", "value": -6}, "value": -3}}},
       "color": {"field": "T", "type": "nominal", "scale": {"domain": ["10.0K", "12.5K", "17.0K"], "range": ["#1f77b4", "#ff7f0e", "#2ca02c"]},
        "legend": {"orient": "none", "legendX": 271, "legendY": 61, "title": ["Anisotropic", "interaction"], "titleLineHeight": 21, "titlePadding": 0, "symbolType": "circle", "symbolSize": 36, "symbolOffset": 12, "labelOffset": 9, "rowPadding": 6, "strokeColor": "black", "fillColor": "white", "padding": 5, "cornerRadius": 0}}
      }},
     {"mark": {"type": "point", "opacity": 0},
      "encoding": {
       "x": {"field": "r", "type": "quantitative", "scale": {"type": "log", "domain": [3.02, 100], "nice": false}, "axis": {"orient": "top", "labels": false, "title": null, "tickSize": {"condition": {"test": "abs(log(datum.value)/LN10-round(log(datum.value)/LN10))<0.001", "value": -6}, "value": -3}}},
       "y": {"field": "g", "type": "quantitative", "scale": {"type": "log", "domain": [0.0246, 4.0], "nice": false}, "axis": {"orient": "right", "labels": false, "title": null, "tickSize": {"condition": {"test": "abs(log(datum.value)/LN10-round(log(datum.value)/LN10))<0.001", "value": -6}, "value": -3}}}
      }}
    ],
    "resolve": {"axis": {"x": "independent", "y": "independent"}}
   }
 ], "spacing": 15, "bounds": "flush", "resolve": {"scale": {"color": "independent"}}}
],
"spacing": 3,
"resolve": {"scale": {"color": "independent"}}
}
